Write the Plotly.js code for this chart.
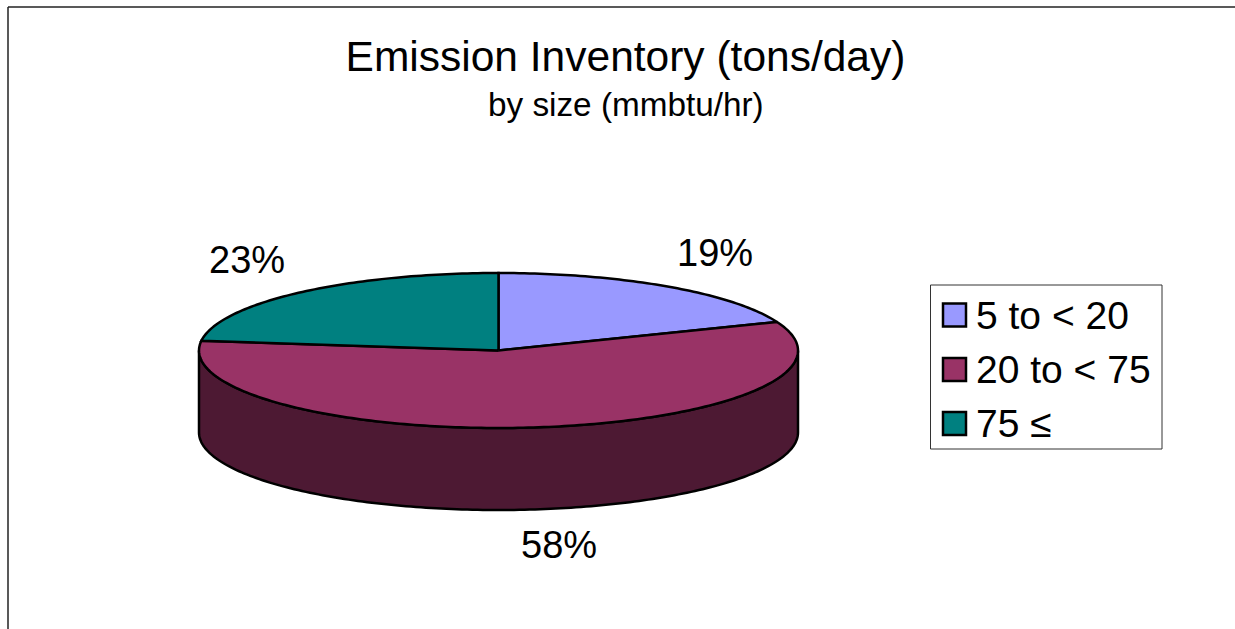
<!DOCTYPE html>
<html>
<head>
<meta charset="utf-8">
<script src="https://cdn.plot.ly/plotly-3.0.1.min.js"></script>
<style>html,body{margin:0;padding:0;background:#fff}#chart{width:1235px;height:629px}</style>
</head>
<body>
<div id="chart"></div>
<script>
// Emission inventory shares by unit size
const categories = ['5 to < 20', '20 to < 75', '75 ≤'];
const shares = [19, 58, 23];
const topColors = ['#9999FF', '#993366', '#008080'];
const wallColor = '#4D1933';
const labelSpots = [[715, 253], [559, 545], [247, 260]];
const legendRows = [315, 369.5, 423.5];

const FONT = 'Liberation Sans, Arial, sans-serif';
const disc = {cx: 498.5, cy: 350.5, rx: 299.5, ry: 77.5, depth: 82};
const INK = '#000000';

// Point on the tilted disc rim; t is the sweep in degrees, clockwise from 12 o'clock.
const rim = (t, drop = 0) => {
  const a = t * Math.PI / 180;
  return [disc.cx + disc.rx * Math.sin(a), disc.cy - disc.ry * Math.cos(a) + drop];
};

function arc(t0, t1, drop = 0) {
  const n = Math.max(2, Math.ceil(Math.abs(t1 - t0)));
  const pts = [];
  for (let i = 0; i <= n; i++) pts.push(rim(t0 + (t1 - t0) * i / n, drop));
  return pts;
}

const polygon = (pts, color, name) => ({
  type: 'scatter', mode: 'lines', name,
  x: pts.map(p => p[0]), y: pts.map(p => p[1]),
  fill: 'toself', fillcolor: color,
  line: {color: INK, width: 2.5, simplify: false},
  hoverinfo: 'name', showlegend: false
});

const total = shares.reduce((s, v) => s + v, 0);
let sweep = 0;
const traces = [];
const tops = [];

categories.forEach((cat, i) => {
  const start = sweep;
  const end = sweep + shares[i] / total * 360;
  sweep = end;
  // Only the part of the rim on the viewer's side has a visible wall.
  const a = Math.max(start, 90), b = Math.min(end, 270);
  if (b > a) {
    const wall = arc(a, b).concat(arc(b, a, disc.depth));
    wall.push(wall[0]);
    traces.push(polygon(wall, wallColor, cat));
  }
  const top = [[disc.cx, disc.cy]].concat(arc(start, end));
  top.push(top[0]);
  tops.push(polygon(top, topColors[i], cat));
});
traces.push(...tops);

// Legend swatches
traces.push({
  type: 'scatter', mode: 'markers', showlegend: false, hoverinfo: 'skip',
  x: categories.map(() => 954.5), y: legendRows,
  marker: {symbol: 'square', size: 23, color: topColors, line: {color: INK, width: 2.5}}
});

const annotations = [{
  x: 625.5, y: 104, text: 'by size (mmbtu/hr)', showarrow: false,
  xanchor: 'center', yanchor: 'middle', font: {family: FONT, size: 33.3, color: INK}
}];
shares.forEach((v, i) => annotations.push({
  x: labelSpots[i][0], y: labelSpots[i][1], text: v + '%', showarrow: false,
  xanchor: 'center', yanchor: 'middle', font: {family: FONT, size: 38, color: INK}
}));
categories.forEach((cat, i) => annotations.push({
  x: 974, y: legendRows[i], text: cat.replace('<', '&lt;'), showarrow: false,
  xanchor: 'left', yanchor: 'middle', font: {family: FONT, size: 39, color: INK}
}));

const layout = {
  width: 1235, height: 629,
  margin: {l: 0, r: 0, t: 0, b: 0},
  paper_bgcolor: '#fff', plot_bgcolor: '#fff',
  showlegend: false,
  title: {
    text: 'Emission Inventory (tons/day)',
    font: {family: FONT, size: 42.5, color: INK},
    x: 625.5 / 1235, xanchor: 'center', y: 0.91, yanchor: 'middle'
  },
  xaxis: {range: [0, 1235], visible: false, fixedrange: true},
  yaxis: {range: [629, 0], visible: false, fixedrange: true},
  annotations,
  shapes: [
    {type: 'line', xref: 'x', yref: 'y', x0: 8, x1: 8, y0: 7, y1: 629, line: {color: '#222', width: 1.5}},
    {type: 'line', xref: 'x', yref: 'y', x0: 8, x1: 1235, y0: 7, y1: 7, line: {color: '#222', width: 1.5}},
    {type: 'rect', xref: 'x', yref: 'y', x0: 930.5, x1: 1162, y0: 285, y1: 449, line: {color: '#333', width: 1}, fillcolor: '#fff', layer: 'below'}
  ]
};

Plotly.newPlot('chart', traces, layout, {displayModeBar: false, responsive: false});
</script>
</body>
</html>
